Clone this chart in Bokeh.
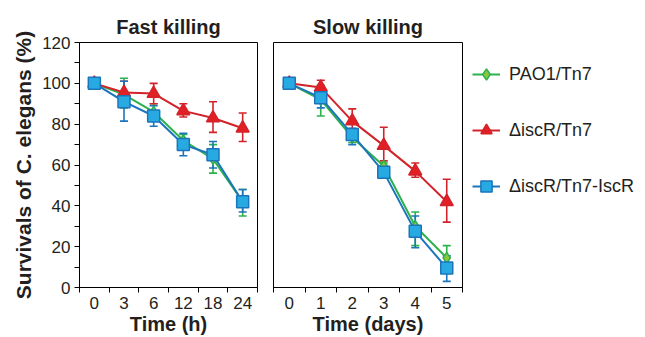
import numpy as np
from bokeh.plotting import figure
from bokeh.layouts import row
from bokeh.models import (Range1d, FixedTicker, Whisker, ColumnDataSource,
                          Legend, LegendItem, TeeHead)
from bokeh.embed import file_html
from bokeh.resources import INLINE

# ---------------- data ----------------
fast_times = ["0", "3", "6", "12", "18", "24"]
slow_times = ["0", "1", "2", "3", "4", "5"]

fast_pao1 = [100, 94.5, 86, 72, 63, 42]
fast_pao1_lo = [100, 88, 82, 69, 56, 35]
fast_pao1_hi = [100, 102.5, 90, 75, 70, 48]

fast_iscr = [100, 95.5, 95, 86.5, 83, 78]
fast_iscr_lo = [100, 89, 90, 83.5, 76, 71.5]
fast_iscr_hi = [100, 101, 100, 90, 91, 85.5]

fast_comp = [100, 91, 84, 70, 65, 42]
fast_comp_lo = [100, 81.5, 79, 64.5, 58.5, 37]
fast_comp_hi = [100, 101, 89, 75.5, 71.5, 48]

slow_pao1 = [100, 92, 73.5, 59.5, 30, 14.5]
slow_pao1_lo = [100, 84, 71, 58, 20.5, 11]
slow_pao1_hi = [100, 99, 76, 61, 37, 20.5]

slow_iscr = [100, 98, 81.5, 69.5, 57, 42]
slow_iscr_lo = [100, 95, 76, 62, 54, 32]
slow_iscr_hi = [100, 101.5, 87.5, 78.5, 61, 53]

slow_comp = [100, 93, 75, 56.5, 27.5, 9.5]
slow_comp_lo = [100, 88, 70, 54, 19.5, 3]
slow_comp_hi = [100, 98, 78, 59, 35, 15.5]

series_names = ["PAO1/Tn7", "\u0394iscR/Tn7", "\u0394iscR/Tn7-IscR"]

# ---------------- styles ----------------
FONT = "Liberation Sans"
TXT = "#231f20"
styles = [
    dict(line="#2bb24c", fill="#8cc63f", marker="diamond", size=11),
    dict(line="#d2232a", fill="#e31f26", marker="triangle", size=13),
    dict(line="#1c75bc", fill="#27aae1", marker="square", size=12),
]


def panel(title, cats, series, xlabel, show_y):
    n = len(cats)
    xs = np.arange(n) + 0.5
    kw = dict(frame_width=178 if show_y else 189, frame_height=245,
              min_border_left=79 if show_y else 8, min_border_right=8 if show_y else 0,
              min_border_top=42, min_border_bottom=48)
    p = figure(title=title, x_range=Range1d(0, n), y_range=Range1d(0, 120),
               output_backend="svg", toolbar_location=None,
               y_axis_location="left" if show_y else None, **kw)
    p.xgrid.visible = False
    p.ygrid.visible = False
    p.outline_line_color = "black"
    p.outline_line_width = 1
    p.background_fill_color = "white"
    p.border_fill_color = "white"

    p.title.text_font = FONT
    p.title.text_font_size = "20px"
    p.title.text_font_style = "bold"
    p.title.align = "center"
    p.title.text_color = TXT

    ax = p.xaxis[0]
    ax.ticker = FixedTicker(ticks=list(xs), minor_ticks=list(range(n + 1)))
    ax.major_label_overrides = {float(x): c for x, c in zip(xs, cats)}
    ax.major_tick_out = 0
    ax.major_tick_in = 0
    ax.minor_tick_out = 5
    ax.minor_tick_in = 0
    ax.minor_tick_line_color = "black"
    ax.axis_line_color = "black"
    ax.major_label_text_font = FONT
    ax.major_label_text_font_size = "17px"
    ax.major_label_text_color = TXT
    ax.major_label_standoff = 4
    ax.axis_label = xlabel
    ax.axis_label_text_font = FONT
    ax.axis_label_text_font_size = "20px"
    ax.axis_label_text_font_style = "bold"
    ax.axis_label_text_color = TXT
    ax.axis_label_standoff = 1

    if show_y:
        ay = p.yaxis[0]
        ay.ticker = FixedTicker(ticks=list(range(0, 121, 20)),
                                minor_ticks=list(range(10, 120, 20)))
        ay.major_tick_out = 5
        ay.major_tick_in = 0
        ay.minor_tick_out = 5
        ay.minor_tick_in = 0
        ay.major_tick_line_color = "black"
        ay.minor_tick_line_color = "black"
        ay.axis_line_color = "black"
        ay.major_label_text_font = FONT
        ay.major_label_text_font_size = "17px"
        ay.major_label_text_color = TXT
        ay.major_label_standoff = 4
        ay.axis_label = "Survivals of C. elegans (%)"
        ay.axis_label_text_font = FONT
        ay.axis_label_text_font_size = "21px"
        ay.axis_label_text_font_style = "bold"
        ay.axis_label_text_color = TXT
        ay.axis_label_standoff = 4

    items = []
    for (vals, lo, hi), st, name in zip(series, styles, series_names):
        src = ColumnDataSource(dict(x=xs, y=vals, lo=lo, hi=hi))
        w = Whisker(source=src, base="x", lower="lo", upper="hi",
                    line_color=st["line"], line_width=1.6, level="underlay",
                    upper_head=TeeHead(size=8, line_color=st["line"], line_width=1.6),
                    lower_head=TeeHead(size=8, line_color=st["line"], line_width=1.6))
        p.add_layout(w)
        ln = p.line("x", "y", source=src, line_color=st["line"], line_width=2)
        sc = p.scatter("x", "y", source=src, marker=st["marker"], size=st["size"],
                       fill_color=st["fill"], line_color=st["line"], line_width=1.5)
        items.append(LegendItem(label=name, renderers=[ln, sc]))
    return p, items


p1, _ = panel("Fast killing", fast_times,
              [(fast_pao1, fast_pao1_lo, fast_pao1_hi),
               (fast_iscr, fast_iscr_lo, fast_iscr_hi),
               (fast_comp, fast_comp_lo, fast_comp_hi)],
              "Time (h)", True)
p2, items = panel("Slow killing", slow_times,
                  [(slow_pao1, slow_pao1_lo, slow_pao1_hi),
                   (slow_iscr, slow_iscr_lo, slow_iscr_hi),
                   (slow_comp, slow_comp_lo, slow_comp_hi)],
                  "Time (days)", False)

legend = Legend(items=items, location="top_left")
legend.border_line_color = None
legend.background_fill_alpha = 0
legend.glyph_width = 28
legend.glyph_height = 44
legend.label_height = 44
legend.spacing = 12
legend.padding = 0
legend.margin = 10
legend.label_standoff = 9
legend.label_text_font = FONT
legend.label_text_font_size = "18px"
legend.label_text_color = TXT
p2.add_layout(legend, "right")

layout = row(p1, p2)
open("out.html", "w").write(file_html(layout, INLINE))
